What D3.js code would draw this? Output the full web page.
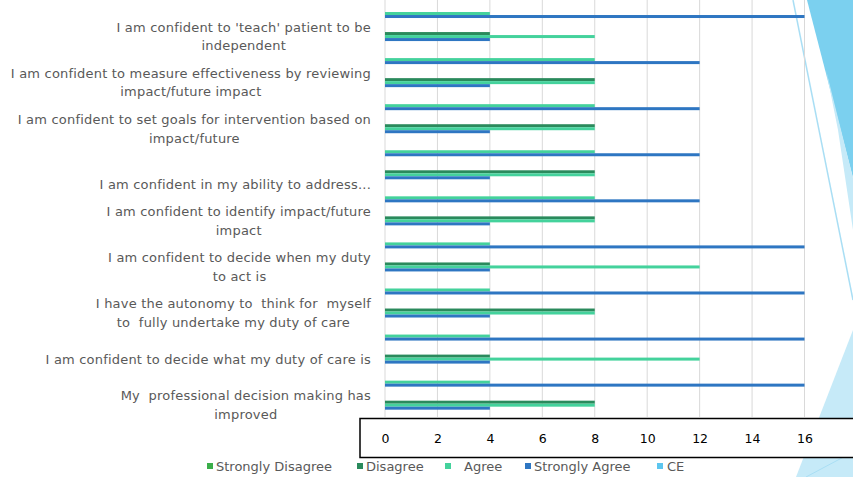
<!DOCTYPE html>
<html>
<head>
<meta charset="utf-8">
<script src="https://cdn.jsdelivr.net/npm/d3@7"></script>
<style>
  body { margin: 0; background: #fff; }
  text { font-family: "DejaVu Sans", sans-serif; }
</style>
</head>
<body>
<div id="chart"></div>
<script>
// 18 rows: every question has an unlabeled row above it
const rowLabels = [
    [], ["I am confident to 'teach' patient to be", "independent"],
    [], ["I am confident to measure effectiveness by reviewing", "impact/future impact"],
    [], ["I am confident to set goals for intervention based on", "impact/future"],
    [], ["", "I am confident in my ability to address..."],
    [], ["I am confident to identify impact/future", "impact"],
    [], ["I am confident to decide when my duty", "to act is"],
    [], ["I have the autonomy to  think for  myself", "to  fully undertake my duty of care"],
    [], ["I am confident to decide what my duty of care is"],
    [], ["My  professional decision making has", "improved"]
];
const seriesNames = ["Strongly Disagree", "Disagree", "Agree", "Strongly Agree", "CE"];
const seriesColors = ["#3bae4a", "#2a8a5c", "#44d29c", "#2e76c2", "#5dc6ef"];

const stronglyDisagree = [0, 0, 0, 0, 0, 0, 0, 0, 0, 0, 0, 0, 0, 0, 0, 0, 0, 0];
const disagree         = [0, 4, 0, 8, 0, 8, 0, 8, 0, 8, 0, 4, 0, 8, 0, 4, 0, 8];
const agree            = [4, 8, 8, 8, 8, 8, 8, 8, 8, 8, 4, 12, 4, 8, 4, 12, 4, 8];
const stronglyAgree    = [16, 4, 12, 4, 12, 4, 12, 4, 12, 4, 16, 4, 16, 4, 16, 4, 16, 4];
const ce               = [0, 0, 0, 0, 0, 0, 0, 0, 0, 0, 0, 0, 0, 0, 0, 0, 0, 0];
const xTicks = [0, 2, 4, 6, 8, 10, 12, 14, 16];

const allSeries = [stronglyDisagree, disagree, agree, stronglyAgree, ce];

var width = 853, height = 477;
var svg = d3.select("#chart").append("svg")
    .attr("width", width)
    .attr("height", height);

// theme decoration on the right edge
var deco = svg.append("g");
deco.append("polygon")
    .attr("points", "807,0 853,0 853,178")
    .attr("fill", "#7bd0ef");
deco.append("polygon")
    .attr("points", "826,70 838,130 853,230 853,178")
    .attr("fill", "#c6eaf8");
deco.append("polygon")
    .attr("points", "853,330 796,477 853,477")
    .attr("fill", "#c6eaf8");
deco.append("line")
    .attr("x1", 793).attr("y1", 0).attr("x2", 853).attr("y2", 300)
    .attr("stroke", "#a9def4").attr("stroke-width", 1.5);
deco.append("line")
    .attr("x1", 806).attr("y1", 477).attr("x2", 853).attr("y2", 452)
    .attr("stroke", "#a9def4").attr("stroke-width", 1);

var x = d3.scaleLinear()
    .domain([0, 16])
    .range([385, 804.5]);

var y = d3.scaleBand()
    .domain(d3.range(rowLabels.length))
    .range([2, 416.7])
    .padding(0);

var ySub = d3.scaleBand()
    .domain(seriesNames)
    .range([0, y.bandwidth()])
    .paddingInner(0)
    .paddingOuter(1.34);

// gridlines
svg.append("g")
    .selectAll("line")
    .data(xTicks)
    .enter()
    .append("line")
    .attr("x1", d => x(d)).attr("x2", d => x(d))
    .attr("y1", 0).attr("y2", 417)
    .attr("stroke", "#d9d9d9")
    .attr("stroke-width", 1);

// bars
seriesNames.forEach(function(name, si) {
    svg.append("g")
        .selectAll("rect")
        .data(allSeries[si])
        .enter()
        .append("rect")
        .attr("x", x(0))
        .attr("y", (d, i) => y(i) + ySub(name))
        .attr("width", d => x(d) - x(0))
        .attr("height", ySub.bandwidth())
        .attr("fill", seriesColors[si]);
});

// category labels
var lineH = 18.5;
var labels = svg.append("g")
    .selectAll("text")
    .data(rowLabels)
    .enter()
    .append("text")
    .attr("text-anchor", "end")
    .attr("font-size", 13)
    .attr("letter-spacing", 0.2)
    .attr("fill", "#595959")
    .style("white-space", "pre");

labels.each(function(lines, i) {
    var t = d3.select(this);
    var cy = y(i) + y.bandwidth() / 2;
    lines.forEach(function(line, li) {
        t.append("tspan")
            .attr("x", 371)
            .attr("y", cy + (li - (lines.length - 1) / 2) * lineH)
            .attr("dy", "0.35em")
            .attr("text-anchor", lines.length > 1 && li > 0 ? "middle" : "end")
            .text(line);
    });
});

// centre continuation lines under the first line
labels.each(function(lines) {
    if (lines.length < 2) return;
    var spans = d3.select(this).selectAll("tspan").nodes();
    var first = spans[0];
    var w = first.getComputedTextLength();
    if (lines[0] === "") {
        spans[1].setAttribute("x", 371);
        spans[1].setAttribute("text-anchor", "end");
        return;
    }
    for (var k = 1; k < spans.length; k++) {
        spans[k].setAttribute("x", 371 - w / 2);
    }
});

// axis box
svg.append("rect")
    .attr("x", 360).attr("y", 418.5)
    .attr("width", 520).attr("height", 39)
    .attr("fill", "#fff")
    .attr("stroke", "#000")
    .attr("stroke-width", 1.5);

var xAxis = d3.axisBottom(x)
    .tickValues(xTicks)
    .tickSize(0)
    .tickPadding(0);

var ax = svg.append("g")
    .attr("transform", "translate(0,434)")
    .call(xAxis);
ax.select(".domain").remove();
ax.selectAll("text")
    .attr("font-size", 12.5)
    .attr("font-family", "DejaVu Sans, sans-serif")
    .attr("fill", "#000");

// legend
var legendX = [207, 357, 445, 525, 657];
var legendTextX = [216, 366, 464, 534, 667];
var legend = svg.append("g").attr("class", "legend");
seriesNames.forEach(function(name, si) {
    legend.append("rect")
        .attr("x", legendX[si]).attr("y", 463)
        .attr("width", 6).attr("height", 6)
        .attr("fill", seriesColors[si]);
    legend.append("text")
        .attr("x", legendTextX[si]).attr("y", 470.5)
        .attr("font-size", 13)
        .attr("fill", "#595959")
        .text(name);
});
</script>
</body>
</html>
